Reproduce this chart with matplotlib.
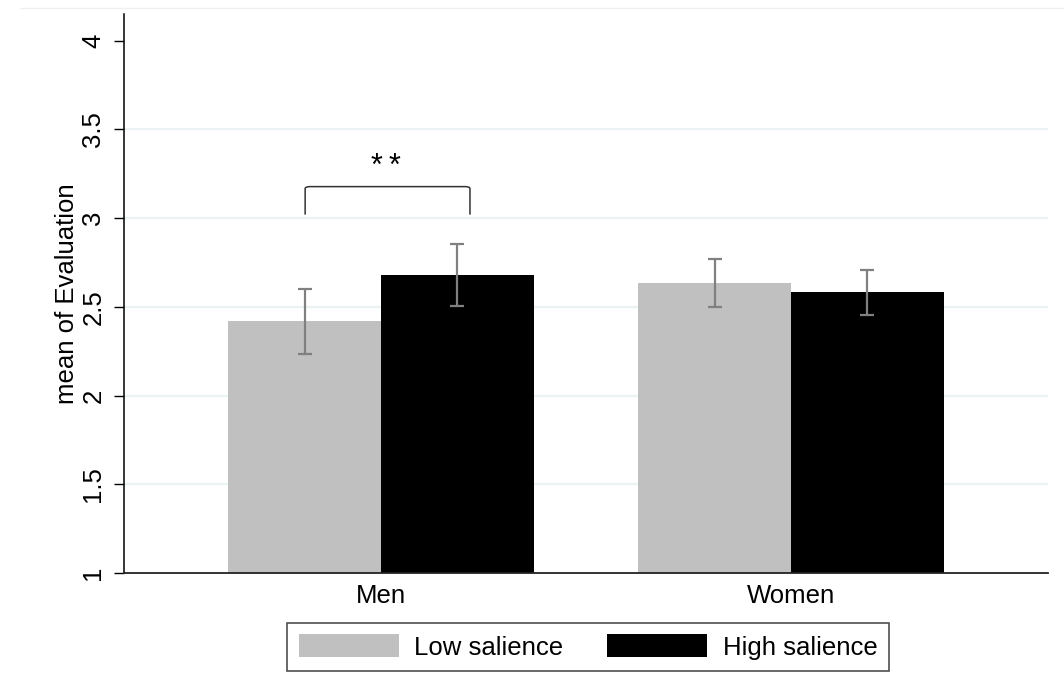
import matplotlib
matplotlib.use('Agg')
import matplotlib.pyplot as plt
from matplotlib.path import Path
from matplotlib.patches import PathPatch
from matplotlib.lines import Line2D
import numpy as np

plt.rcParams['font.family'] = ['Liberation Sans', 'DejaVu Sans']

groups = ['Men', 'Women']
series = ['Low salience', 'High salience']
low_mean = [2.42, 2.636]
low_lo = [2.237, 2.50]
low_hi = [2.60, 2.769]
high_mean = [2.68, 2.583]
high_lo = [2.505, 2.455]
high_hi = [2.853, 2.709]
yticks = [1, 1.5, 2, 2.5, 3, 3.5, 4]
gridvals = [1.5, 2, 2.5, 3, 3.5]

fig = plt.figure(figsize=(10.64, 6.98), dpi=100)
ax = fig.add_axes([124 / 1064, 1 - 573 / 698, 924 / 1064, 559 / 698])

x = np.arange(len(groups))
w = 0.373

for g in gridvals:
    ax.axhline(g, color='#eaf2f3', linewidth=1.6, zorder=0)

ax.bar(x - w / 2, low_mean, width=w, color='#c0c0c0', label=series[0], zorder=2)
ax.bar(x + w / 2, high_mean, width=w, color='black', label=series[1], zorder=2)

# confidence intervals
for xs, lo, hi in [(x - w / 2, low_lo, low_hi), (x + w / 2, high_lo, high_hi)]:
    lo = np.array(lo)
    hi = np.array(hi)
    c = (lo + hi) / 2
    ax.errorbar(xs, c, yerr=(hi - lo) / 2, fmt='none', ecolor='#808080',
                elinewidth=1.6, capsize=5, capthick=1.6, zorder=3)

# significance bracket over Men
x0, x1 = -0.185, 0.217
yb, yt = 3.02, 3.178
r = 0.012
verts = [(x0, yb), (x0, yt - 0.012), (x0, yt), (x0 + r, yt),
         (x1 - r, yt), (x1, yt), (x1, yt - 0.012), (x1, yb)]
codes = [Path.MOVETO, Path.LINETO, Path.CURVE3, Path.CURVE3,
         Path.LINETO, Path.CURVE3, Path.CURVE3, Path.LINETO]
ax.add_patch(PathPatch(Path(verts, codes), fill=False, edgecolor='#333333', linewidth=1.1, zorder=3))
ax.text((x0 + x1) / 2 - 0.003, 3.245, '*\u2009*', ha='center', va='baseline', fontsize=22)

ax.set_xlim(-0.6268, 1.6268)
ax.set_ylim(1, 4.151)
ax.set_yticks(yticks)
ax.set_yticklabels(['1', '1.5', '2', '2.5', '3', '3.5', '4'], rotation=90, va='center')
ax.set_xticks(x)
ax.set_xticklabels(groups)
ax.tick_params(axis='y', length=7.5, width=1.0, labelsize=18.5, pad=6)
ax.tick_params(axis='x', length=0, labelsize=18.5, pad=8)
ax.set_ylabel('mean of Evaluation', fontsize=18.5, labelpad=1.5)

for s in ['top', 'right']:
    ax.spines[s].set_visible(False)
ax.spines['left'].set_linewidth(1.1)
ax.spines['bottom'].set_linewidth(1.3)
ax.spines['bottom'].set_color('#222222')

leg = fig.legend(loc='center', bbox_to_anchor=(588 / 1064, 1 - 647 / 698), ncol=2,
                 fontsize=18.5, frameon=True, fancybox=False, edgecolor='#222222',
                 handlelength=3.9, handleheight=1.0, handletextpad=0.6,
                 columnspacing=1.7, borderpad=0.45)
leg.get_frame().set_linewidth(1.2)

fig.add_artist(Line2D([20 / 1064, 1], [1 - 8 / 698, 1 - 8 / 698], color='#f0f0f0', linewidth=1.0))

fig.savefig('out.png', dpi=100)
